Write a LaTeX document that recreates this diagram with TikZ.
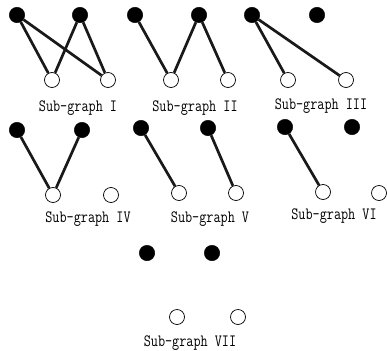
\documentclass[tikz,border=0pt]{standalone}
\usepackage{fontspec}
\newcommand{\sglabel}[1]{\scalebox{1}[1.25]{#1}}
\begin{document}
\begin{tikzpicture}[x=1pt,y=-1pt,
  blk/.style={circle,fill=black,draw=black,inner sep=0pt,minimum size=15.5pt},
  wht/.style={circle,fill=white,draw=black,line width=0.7pt,inner sep=0pt,minimum size=15pt},
  edge/.style={line width=2.7pt,draw=black!90},
  lbl/.style={font=\fontsize{13.8}{16}\ttfamily,inner sep=0pt}]
\clip (0,0) rectangle (387,350);
\useasboundingbox (0,0) rectangle (387,350);

% Sub-graph I
\node[blk] (a1) at (17,15) {};
\node[blk] (a2) at (80,15) {};
\node[wht] (a3) at (52,80) {};
\node[wht] (a4) at (108,80) {};
\draw[edge] (a1) -- (a3);
\draw[edge] (a1) -- (a4);
\draw[edge] (a2) -- (a3);
\draw[edge] (a2) -- (a4);
\node[lbl] (la) at (78,108) {\sglabel{Sub-graph I}};

% Sub-graph II
\node[blk] (b1) at (135,15) {};
\node[blk] (b2) at (199,15) {};
\node[wht] (b3) at (171,80) {};
\node[wht] (b4) at (228,80) {};
\draw[edge] (b1) -- (b3);
\draw[edge] (b2) -- (b3);
\draw[edge] (b2) -- (b4);
\node[lbl] (lb) at (195,108) {\sglabel{Sub-graph II}};

% Sub-graph III
\node[blk] (c1) at (252,15) {};
\node[blk] (c2) at (317,15) {};
\node[wht] (c3) at (288,80) {};
\node[wht] (c4) at (346,80) {};
\draw[edge] (c1) -- (c3);
\draw[edge] (c1) -- (c4);
\node[lbl] (lc) at (321,106) {\sglabel{Sub-graph III}};

% Sub-graph IV
\node[blk] (d1) at (17,130) {};
\node[blk] (d2) at (82,130) {};
\node[wht] (d3) at (53,195) {};
\node[wht] (d4) at (111,195) {};
\draw[edge] (d1) -- (d3);
\draw[edge] (d2) -- (d3);
\node[lbl] (ld) at (88,219) {\sglabel{Sub-graph IV}};

% Sub-graph V
\node[blk] (e1) at (141,128) {};
\node[blk] (e2) at (208,128) {};
\node[wht] (e3) at (179,193) {};
\node[wht] (e4) at (236,193) {};
\draw[edge] (e1) -- (e3);
\draw[edge] (e2) -- (e4);
\node[lbl] (le) at (210,219) {\sglabel{Sub-graph V}};

% Sub-graph VI
\node[blk] (f1) at (285,127) {};
\node[blk] (f2) at (352,127) {};
\node[wht] (f3) at (323,192) {};
\node[wht] (f4) at (379,193) {};
\draw[edge] (f1) -- (f3);
\node[lbl] (lf) at (334,216) {\sglabel{Sub-graph VI}};

% Sub-graph VII
\node[blk] (g1) at (147,253) {};
\node[blk] (g2) at (212,253) {};
\node[wht] (g3) at (177,317) {};
\node[wht] (g4) at (238,317) {};
\node[lbl] (lg) at (190,343) {\sglabel{Sub-graph VII}};
\end{tikzpicture}
\end{document}
